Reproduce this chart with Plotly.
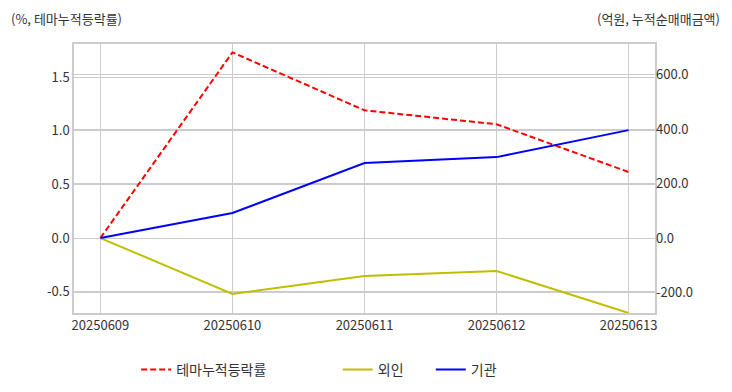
import plotly.graph_objects as go

dates = ["20250609", "20250610", "20250611", "20250612", "20250613"]
theme_pct = [0.0, 1.73, 1.19, 1.06, 0.615]
foreign = [0.0, -205.0, -139.0, -121.0, -275.0]
institution = [0.0, 92.0, 275.0, 297.0, 396.0]

left_ticks = [-0.5, 0.0, 0.5, 1.0, 1.5]
left_ticktext = ["-0.5", "0.0", "0.5", "1.0", "1.5"]
right_ticks = [-200, 0, 200, 400, 600]
right_ticktext = ["-200.0", "0.0", "200.0", "400.0", "600.0"]

font_family = "Noto Sans CJK KR"
grid = "#cccccc"
txt = "#333333"

fig = go.Figure()
fig.add_trace(go.Scatter(x=dates, y=theme_pct, name="테마누적등락률", mode="lines",
                         line=dict(color="#ff0000", width=2, dash="6px,3px"), yaxis="y",
                         legend="legend"))
fig.add_trace(go.Scatter(x=dates, y=foreign, name="외인", mode="lines",
                         line=dict(color="#bfbf00", width=2), yaxis="y2",
                         legend="legend2"))
fig.add_trace(go.Scatter(x=dates, y=institution, name="기관", mode="lines",
                         line=dict(color="#0000ff", width=2), yaxis="y2",
                         legend="legend2"))

fig.update_layout(
    width=732, height=392,
    margin=dict(l=74, r=77, t=44, b=79, autoexpand=False),
    paper_bgcolor="white", plot_bgcolor="white",
    font=dict(family=font_family, size=13, color=txt),
    xaxis=dict(type="category", range=[-0.2, 4.2], showgrid=True, gridcolor=grid, gridwidth=1,
               showline=True, linecolor=grid, linewidth=1.5, mirror=True, ticks="",
               tickfont=dict(size=13, color=txt), zeroline=False, automargin=False),
    yaxis=dict(range=[-0.699, 1.808], tickvals=left_ticks, ticktext=left_ticktext,
               showgrid=True, gridcolor=grid, gridwidth=1, zeroline=False,
               showline=True, linecolor=grid, linewidth=1.5, mirror=True, ticks="",
               tickfont=dict(size=13, color=txt), automargin=False),
    yaxis2=dict(range=[-275, 712], tickvals=right_ticks, ticktext=right_ticktext,
                overlaying="y", side="right", showgrid=True, gridcolor=grid, gridwidth=1,
                zeroline=False, showline=False, ticks="",
                tickfont=dict(size=13, color=txt), automargin=False),
    legend=dict(orientation="h", x=0.107, xanchor="left", y=-0.152, yanchor="top",
                font=dict(size=14, color=txt), bgcolor="rgba(0,0,0,0)"),
    legend2=dict(orientation="h", x=0.454, xanchor="left", y=-0.152, yanchor="top",
                 font=dict(size=14, color=txt), entrywidth=48, entrywidthmode="pixels",
                 bgcolor="rgba(0,0,0,0)"),
    showlegend=True,
    annotations=[
        dict(text="(%, 테마누적등락률)", xref="paper", yref="paper", x=0, y=1,
             xshift=-65, yshift=14, xanchor="left", yanchor="bottom", showarrow=False,
             font=dict(size=13, color=txt)),
        dict(text="(억원, 누적순매매금액)", xref="paper", yref="paper", x=1, y=1,
             xshift=67, yshift=14, xanchor="right", yanchor="bottom", showarrow=False,
             font=dict(size=13, color=txt)),
    ],
)

fig.write_html("out.html", config={"displayModeBar": False},
               post_script="document.body.style.margin='0';")
